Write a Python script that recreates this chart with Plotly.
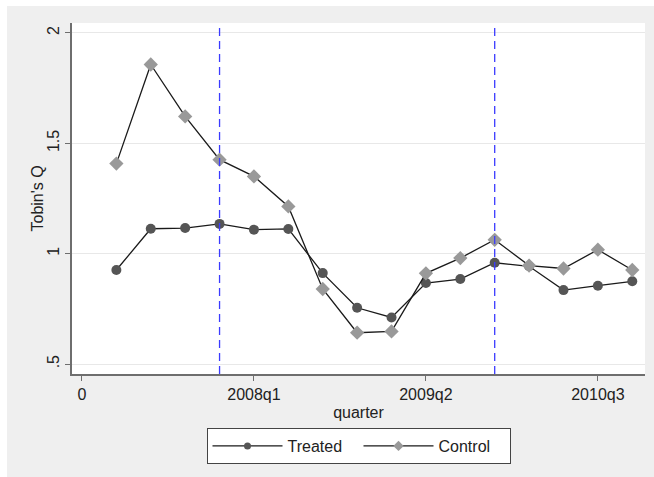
import plotly.graph_objects as go

# quarter index (0 = axis origin label), tick labels
quarters = list(range(1, 17))
tick_vals = [0, 5, 10, 15]
tick_text = ["0", "2008q1", "2009q2", "2010q3"]
event_quarters = [4, 12]

treated = [0.926, 1.113, 1.116, 1.135, 1.109, 1.112, 0.912, 0.755,
           0.711, 0.867, 0.885, 0.959, 0.943, 0.835, 0.855, 0.875]
control = [1.408, 1.857, 1.622, 1.426, 1.350, 1.214, 0.840, 0.642,
           0.648, 0.911, 0.980, 1.063, 0.946, 0.933, 1.018, 0.926]

FONT = "Liberation Sans, Arial, sans-serif"
AXIS_COL = "#6e6e6e"
LINE_COL = "#1a1a1a"
TREAT_COL = "#555555"
CTRL_COL = "#999999"

fig = go.Figure()
fig.add_trace(go.Scatter(
    x=quarters, y=treated, name="Treated", mode="lines+markers", showlegend=False,
    line=dict(color=LINE_COL, width=1.3),
    marker=dict(symbol="circle", size=10, color=TREAT_COL),
))
fig.add_trace(go.Scatter(
    x=quarters, y=control, name="Control", mode="lines+markers", showlegend=False,
    line=dict(color=LINE_COL, width=1.3),
    marker=dict(symbol="diamond", size=11, color=CTRL_COL),
))
# legend entries (smaller legend markers as in the reference)
fig.add_trace(go.Scatter(
    x=[None], y=[None], name="Treated", mode="lines+markers",
    line=dict(color=LINE_COL, width=1.3),
    marker=dict(symbol="circle", size=7, color=TREAT_COL),
))
fig.add_trace(go.Scatter(
    x=[None], y=[None], name="Control", mode="lines+markers",
    line=dict(color=LINE_COL, width=1.3),
    marker=dict(symbol="diamond", size=8, color=CTRL_COL),
))

for q in event_quarters:
    fig.add_vline(x=q, line=dict(color="#3b3bff", width=1.3, dash="8px,5px"), layer="above")

W, H = 654, 477
L, R, T, B = 72, 9, 23, 103
pw, ph = W - L - R, H - T - B

def px(x):
    return (x - L) / pw

def py(y):
    return (H - B - y) / ph

# white strips outside gray frame (left and top)
fig.add_shape(type="rect", xref="paper", yref="paper",
              x0=px(0), x1=px(7), y0=py(H), y1=py(0),
              fillcolor="white", line=dict(width=0), layer="below")
fig.add_shape(type="rect", xref="paper", yref="paper",
              x0=px(0), x1=px(W), y0=py(6), y1=py(0),
              fillcolor="white", line=dict(width=0), layer="below")

# y-axis title
fig.add_annotation(text="Tobin's Q", xref="paper", yref="paper",
                   x=px(37), y=0.5, textangle=-90, showarrow=False,
                   xanchor="center", yanchor="middle",
                   font=dict(family=FONT, size=16, color="#222222"))

fig.update_layout(
    width=W, height=H,
    margin=dict(l=L, r=R, t=T, b=B, pad=0),
    paper_bgcolor="#efefef",
    plot_bgcolor="white",
    font=dict(family=FONT, size=16, color="#222222"),
    showlegend=True,
    legend=dict(
        orientation="h", x=0.5, xanchor="center", y=py(428), yanchor="top",
        bgcolor="white", bordercolor="#444444", borderwidth=1,
        font=dict(size=16, color="#222222"), itemwidth=70,
        entrywidth=66, entrywidthmode="pixels",
        traceorder="normal",
    ),
    xaxis=dict(
        range=[-0.29, 16.37], tickvals=tick_vals, ticktext=tick_text,
        showgrid=False, zeroline=False,
        showline=True, linecolor=AXIS_COL, linewidth=2,
        ticks="outside", ticklen=5, tickcolor=AXIS_COL, tickwidth=1.2,
        tickfont=dict(size=16),
        title=dict(text="quarter", font=dict(size=16), standoff=5),
    ),
    yaxis=dict(
        range=[0.455, 2.045], tickvals=[0.5, 1, 1.5, 2], ticktext=[".5", "1", "1.5", "2"],
        tickangle=-90,
        showgrid=True, gridcolor="#e8e8e8", gridwidth=1, zeroline=False,
        showline=True, linecolor=AXIS_COL, linewidth=2,
        ticks="outside", ticklen=5, tickcolor=AXIS_COL, tickwidth=1.2,
        tickfont=dict(size=16),
    ),
)

fig.write_html("out.html", config={"displayModeBar": False},
               post_script="document.body.style.margin='0';document.body.style.overflow='hidden';")
